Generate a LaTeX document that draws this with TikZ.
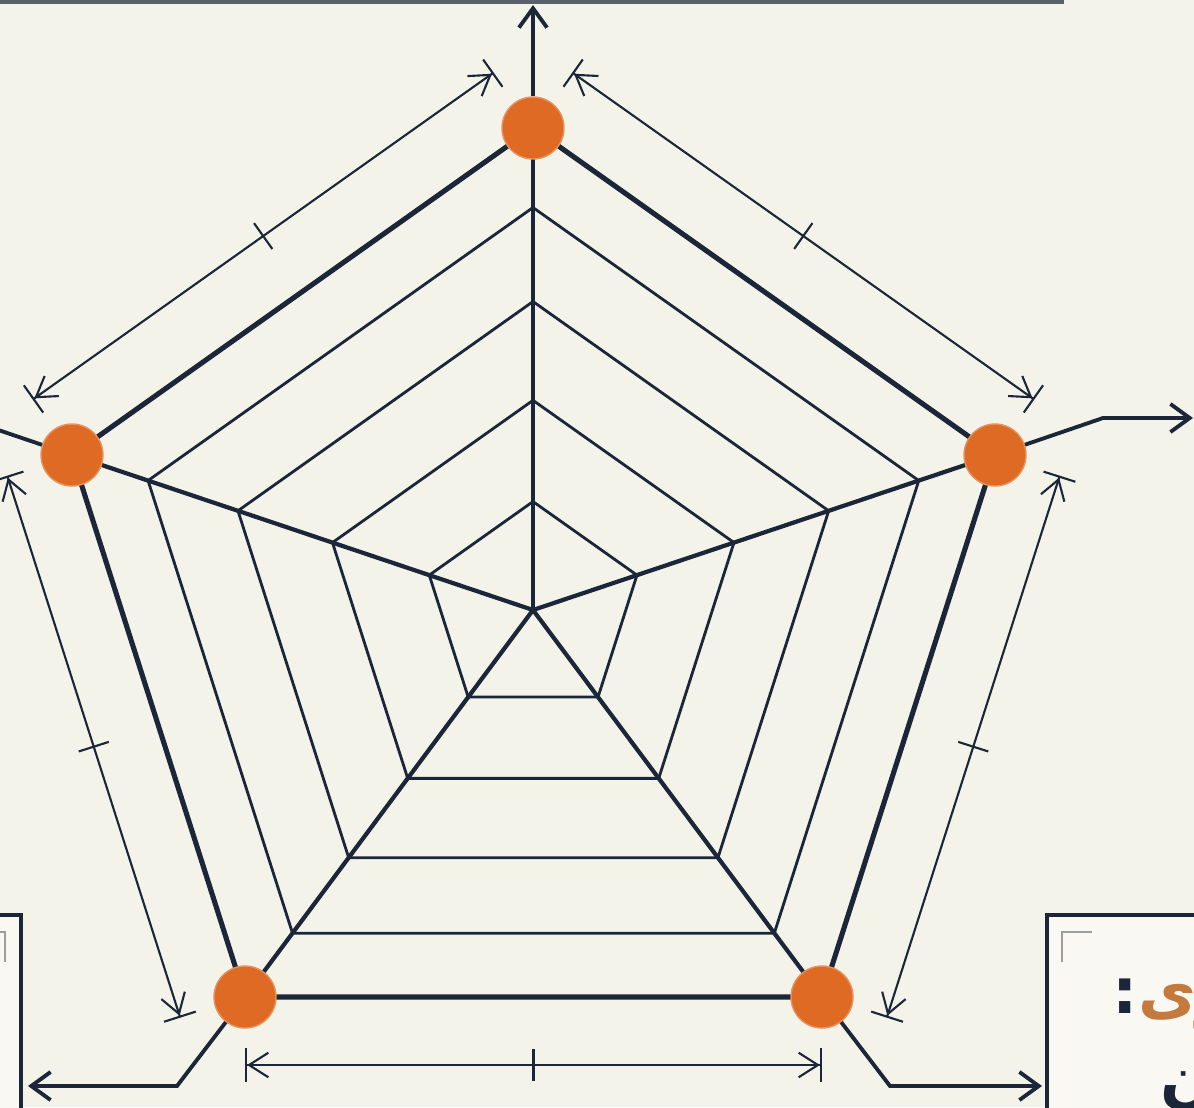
\documentclass[tikz,border=0pt]{standalone}
\usepackage{fontspec}
\usetikzlibrary{arrows.meta, positioning, calc}
\newfontfamily\persianfont[Script=Arabic]{DejaVu Sans}
\TeXXeTstate=1
\definecolor{paper}{HTML}{F4F3EA}
\definecolor{ink}{HTML}{1B2638}
\definecolor{dotorange}{HTML}{DF6A24}
\definecolor{wordorange}{HTML}{C47A3C}
\definecolor{framegray}{HTML}{59616C}
\definecolor{markgray}{HTML}{9A9E9E}

\tikzset{
  vdot/.style={circle, fill=dotorange, draw=dotorange!70!paper, line width=0.8pt, minimum size=1.24cm, inner sep=0pt},
  rim/.style={ink, line width=2.9pt, line join=round},
  spoke/.style={ink, line width=2.4pt},
  ring/.style={ink, line width=1.6pt, line join=round},
  lead/.style={ink, line width=2.2pt, -{Straight Barb[length=11pt, width=16pt, line width=2.2pt]}},
  dimline/.style={ink, line width=1.2pt, {Bar[width=19pt]Straight Barb[length=11pt, width=14pt]}-{Straight Barb[length=11pt, width=14pt]Bar[width=19pt]}},
  midtick/.style={ink, line width=1.2pt},
  panel/.style={draw=ink, fill=paper!55!white, line width=2.2pt},
  cornermark/.style={markgray, line width=1pt},
  paneltext/.style={inner sep=0pt, font=\persianfont\bfseries\fontsize{36}{42}\selectfont},
}

\begin{document}
\begin{tikzpicture}[x=0.02cm, y=-0.02cm]

% Canvas
\useasboundingbox (0,0) rectangle (1194,1107);
\clip (0,0) rectangle (1194,1107);
\fill[paper] (0,0) rectangle (1194,1107);

% Frame above, side panels
\draw[framegray, line width=1.8pt] (-20,-100) rectangle (1062,2);
\draw[panel] (-60,915) rectangle (21,1200);
\draw[panel] (1047,915) rectangle (1260,1200);
\draw[cornermark] (-20,932) -- (5,932) -- (5,962);
\draw[cornermark] (1062,962) -- (1062,932) -- (1092,932);

% Web geometry
\coordinate (O) at (533,610);
\coordinate (p1) at (533,128);
\coordinate (p2) at (995,455);
\coordinate (p3) at (822,997);
\coordinate (p4) at (245,997);
\coordinate (p5) at (72,455);

% Inner rings
\foreach \f in {0.225,0.435,0.64,0.835}
  \draw[ring] ($(O)!\f!(p1)$) -- ($(O)!\f!(p2)$) -- ($(O)!\f!(p3)$)
    -- ($(O)!\f!(p4)$) -- ($(O)!\f!(p5)$) -- cycle;

% Spokes and outer pentagon
\foreach \i in {1,...,5}
  \draw[spoke] (O) -- (p\i);
\draw[rim] (p1) -- (p2) -- (p3) -- (p4) -- (p5) -- cycle;

% Side length markers
\foreach \a/\b in {1/2,2/3,3/4,4/5,5/1} {
  \coordinate (ds\a) at ($(p\a)!1.36cm!90:(p\b)$);
  \coordinate (de\a) at ($(p\b)!1.36cm!-90:(p\a)$);
  \coordinate (dm\a) at ($(ds\a)!0.5!(de\a)$);
  \draw[dimline] (ds\a) -- (de\a);
  \draw[midtick] ($(dm\a)!9pt!90:(de\a)$) -- ($(dm\a)!9pt!-90:(de\a)$);
}

% Vertices
\node[vdot] (v1) at (p1) {};
\node[vdot] (v2) at (p2) {};
\node[vdot] (v3) at (p3) {};
\node[vdot] (v4) at (p4) {};
\node[vdot] (v5) at (p5) {};

% Leaders out of the vertices
\coordinate (topend) at (533,5);
\coordinate (rknee) at (1103,418);
\coordinate (rend) at (1193,418);
\coordinate (lknee) at (-37,418);
\coordinate (lend) at (-127,418);
\coordinate (blknee) at (177,1086);
\coordinate (blend) at (28,1086);
\coordinate (brknee) at (890,1086);
\coordinate (brend) at (1042,1086);
\draw[lead] (v1) -- (topend);
\draw[lead] (v2) -- (rknee) -- (rend);
\draw[lead] (v5) -- (lknee) -- (lend);
\draw[lead] (v4) -- (blknee) -- (blend);
\draw[lead] (v3) -- (brknee) -- (brend);

% Panel text (cut by the edge)
\node[paneltext, anchor=base west, text=wordorange] (keyword) at (1138,1013) {\beginR ری\endR};
\node[paneltext, anchor=base east, text=ink] (keycolon) at (keyword.base west) {:};
\node[paneltext, anchor=base west, text=ink] (keyline) at (1160,1100) {\beginR ن\endR};

\end{tikzpicture}
\end{document}
